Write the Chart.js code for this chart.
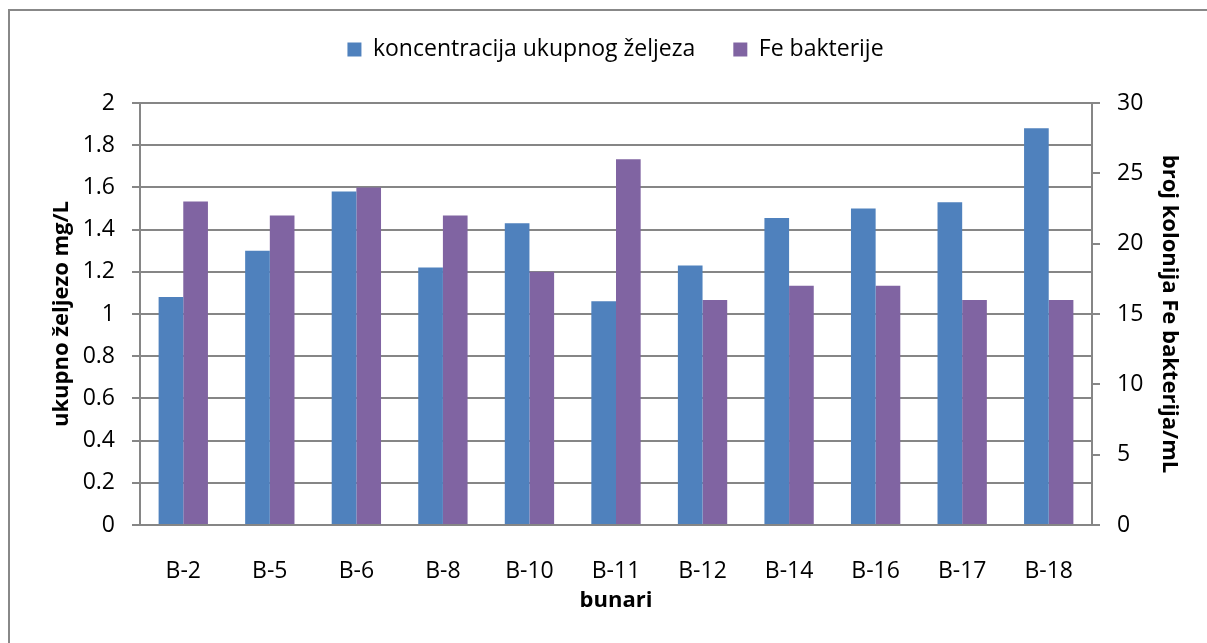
<!DOCTYPE html>
<html>
<head>
<meta charset="utf-8">
<script src="https://cdn.jsdelivr.net/npm/chart.js@4.4.0/dist/chart.umd.min.js"></script>
<style>
  html, body { margin: 0; padding: 0; background: #fff; overflow: hidden; }
  #wrap { position: relative; width: 1207px; height: 643px; }
  #frame { position: absolute; left: 8px; top: 9px; width: 1300px; height: 700px;
           border: 2px solid #888; box-sizing: border-box; pointer-events: none; }
  canvas { position: absolute; left: 0; top: 0; }
</style>
</head>
<body>
<div id="wrap">
  <canvas id="myChart" width="1207" height="643"></canvas>
  <div id="frame"></div>
</div>
<script>
// bunari (wells)
const labels = ["B-2", "B-5", "B-6", "B-8", "B-10", "B-11", "B-12", "B-14", "B-16", "B-17", "B-18"];
// koncentracija ukupnog zeljeza, mg/L (left axis)
const ironConc = [1.08, 1.30, 1.58, 1.22, 1.43, 1.06, 1.23, 1.455, 1.50, 1.53, 1.88];
// broj kolonija Fe bakterija/mL (right axis)
const feBacteria = [23, 22, 24, 22, 18, 26, 16, 17, 17, 16, 16];

const leftTicks = { min: 0, max: 2, step: 0.2 };
const rightTicks = { min: 0, max: 30, step: 5 };

const FONT = "'Open Sans', sans-serif";
const gridColor = "#868686";

// make the legend box taller so the plot starts lower, like in the original
const legendGap = {
  id: "legendGap",
  afterInit(chart) {
    const leg = chart.legend;
    const fit = leg.fit;
    leg.fit = function () {
      fit.call(this);
      this.height = 103;
    };
  },
};

const ctx = document.getElementById("myChart");
new Chart(ctx, {
  type: "bar",
  data: {
    labels: labels,
    datasets: [
      {
        label: "koncentracija ukupnog željeza",
        data: ironConc,
        backgroundColor: "#4F81BD",
        yAxisID: "y",
        categoryPercentage: 0.57,
        barPercentage: 1.0,
      },
      {
        label: "Fe bakterije",
        data: feBacteria,
        backgroundColor: "#8064A2",
        yAxisID: "y1",
        categoryPercentage: 0.57,
        barPercentage: 1.0,
      },
    ],
  },
  plugins: [legendGap],
  options: {
    responsive: false,
    animation: false,
    layout: { padding: { left: 45, right: 21, top: 0, bottom: 25 } },
    scales: {
      x: {
        grid: { display: false },
        border: { display: true, color: gridColor, width: 2 },
        ticks: { color: "#000", font: { family: FONT, size: 23 }, padding: 25 },
        title: {
          display: true,
          text: "bunari",
          color: "#000",
          font: { family: FONT, size: 22, weight: "bold" },
        },
        afterFit: (scale) => { scale.height = 93; },
      },
      y: {
        position: "left",
        min: leftTicks.min,
        max: leftTicks.max,
        grid: { color: gridColor, lineWidth: 2, tickLength: 8 },
        border: { display: true, color: gridColor, width: 2 },
        ticks: {
          stepSize: leftTicks.step,
          color: "#000",
          padding: 17,
          font: { family: FONT, size: 23 },
          callback: (v) => Math.round(v * 10) / 10,
        },
        title: {
          display: true,
          text: "ukupno željezo mg/L",
          color: "#000",
          font: { family: FONT, size: 22, weight: "bold" },
        },
        afterFit: (scale) => { scale.width = 95; },
      },
      y1: {
        position: "right",
        min: rightTicks.min,
        max: rightTicks.max,
        grid: { drawOnChartArea: false, color: gridColor, lineWidth: 2, tickLength: 8 },
        border: { display: true, color: gridColor, width: 2 },
        ticks: {
          stepSize: rightTicks.step,
          color: "#000",
          padding: 17,
          font: { family: FONT, size: 23 },
        },
        title: {
          display: true,
          text: "broj kolonija Fe bakterija/mL",
          color: "#000",
          font: { family: FONT, size: 22, weight: "bold" },
        },
        afterFit: (scale) => { scale.width = 94; },
      },
    },
    plugins: {
      legend: {
        display: true,
        position: "top",
        labels: {
          color: "#000",
          boxWidth: 14,
          boxHeight: 14,
          padding: 38,
          font: { family: FONT, size: 23 },
        },
      },
      tooltip: { enabled: false },
    },
  },
});
</script>
</body>
</html>
